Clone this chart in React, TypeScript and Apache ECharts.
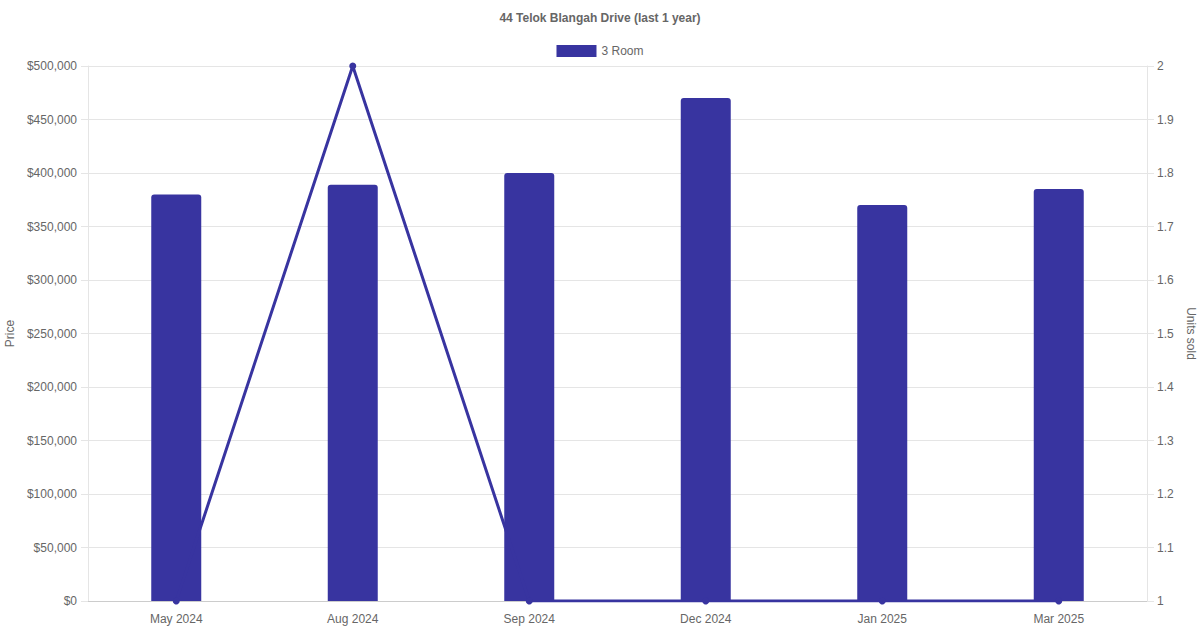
import React, { useEffect, useRef } from "react";
import * as echarts from "echarts";

const categories = ["May 2024", "Aug 2024", "Sep 2024", "Dec 2024", "Jan 2025", "Mar 2025"];
const prices = [380000, 389000, 400000, 470000, 370000, 385000];
const unitsSold = [1, 2, 1, 1, 1, 1];
const titleText = "44 Telok Blangah Drive (last 1 year)";
const seriesName = "3 Room";

const COLOR = "#3834a0";
const FONT = "Liberation Sans, Arial, sans-serif";

export default function App() {
  const ref = useRef<HTMLDivElement>(null);
  useEffect(() => {
    const chart = echarts.init(ref.current!, null, { renderer: "svg" });
    chart.setOption({
      animation: false,
      textStyle: { fontFamily: FONT },
      title: {
        text: titleText,
        left: "center",
        top: 7,
        textStyle: { fontSize: 12, fontWeight: "bold", color: "#666", fontFamily: FONT },
      },
      legend: {
        top: 40,
        left: "center",
        itemWidth: 40,
        itemHeight: 12,
        itemGap: 10,
        textStyle: { fontSize: 12, color: "#666", fontFamily: FONT },
        data: [{ name: seriesName, icon: "rect", itemStyle: { color: COLOR } }],
      },
      grid: { left: 88, right: 53, top: 66, bottom: 29, containLabel: false, outerBoundsMode: "none" },
      xAxis: {
        type: "category",
        data: categories,
        axisLine: { lineStyle: { color: "#cccccc" } },
        axisTick: { show: false },
        splitLine: { show: false },
        axisLabel: { color: "#666", fontSize: 12, margin: 12, fontFamily: FONT },
      },
      yAxis: [
        {
          type: "value",
          min: 0,
          max: 500000,
          interval: 50000,
          name: "Price",
          nameLocation: "middle",
          nameRotate: 90,
          nameGap: 71,
          nameTextStyle: { color: "#666", fontSize: 12, fontFamily: FONT },
          axisLine: { show: true, lineStyle: { color: "#e5e5e5" } },
          axisTick: { show: true, length: 7, lineStyle: { color: "#e5e5e5" } },
          splitLine: { lineStyle: { color: "#e5e5e5" } },
          axisLabel: {
            color: "#666",
            fontSize: 12,
            margin: 11,
            fontFamily: FONT,
            formatter: (v: number) => "$" + v.toLocaleString("en-US"),
          },
        },
        {
          type: "value",
          min: 1,
          max: 2,
          interval: 0.1,
          position: "right",
          name: "Units sold",
          nameLocation: "middle",
          nameRotate: -90,
          nameGap: 36,
          nameTextStyle: { color: "#666", fontSize: 12, fontFamily: FONT },
          axisLine: { show: true, lineStyle: { color: "#e5e5e5" } },
          axisTick: { show: true, length: 7, lineStyle: { color: "#e5e5e5" } },
          splitLine: { show: false },
          axisLabel: {
            color: "#666",
            fontSize: 12,
            margin: 10,
            fontFamily: FONT,
            formatter: (v: number) => String(Math.round(v * 10) / 10),
          },
        },
      ],
      series: [
        {
          name: seriesName,
          type: "bar",
          data: prices,
          barWidth: 50,
          itemStyle: { color: COLOR, borderRadius: [3, 3, 0, 0] },
          z: 2,
        },
        {
          name: "Units",
          type: "line",
          yAxisIndex: 1,
          data: unitsSold,
          symbol: "circle",
          symbolSize: 7,
          lineStyle: { color: COLOR, width: 3 },
          itemStyle: { color: COLOR },
          z: 3,
        },
      ],
    });
    return () => chart.dispose();
  }, []);
  return (
    <div
      ref={ref}
      style={{ position: "fixed", left: 0, top: 0, width: 1200, height: 630, background: "#fff" }}
    />
  );
}
